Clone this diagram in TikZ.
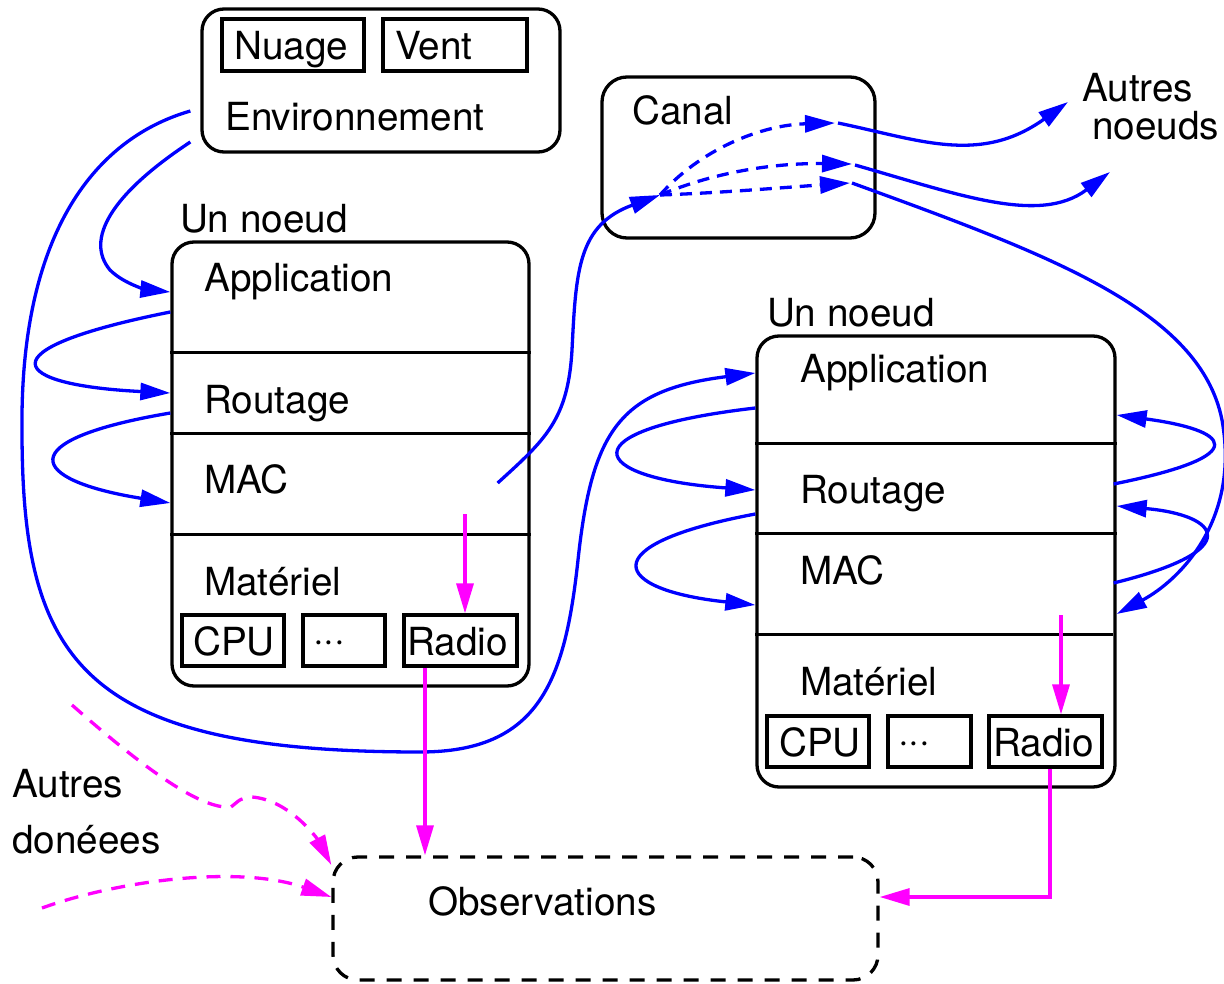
\documentclass[tikz,border=0pt]{standalone}
\usepackage{fontspec}
\setmainfont{TeX Gyre Heros}
\usetikzlibrary{arrows.meta,calc}
\definecolor{linkblue}{RGB}{0,0,255}
\definecolor{obsmag}{RGB}{255,0,255}
\begin{document}
\begin{tikzpicture}[x=1pt,y=-1pt,
  frame/.style={draw=black, line width=3.3pt, rounded corners=22pt, inner sep=0pt},
  part/.style={draw=black, line width=3.2pt, inner sep=0pt},
  layerline/.style={draw=black, line width=3pt},
  lbl/.style={anchor=base west, inner sep=0pt, font=\fontsize{38.7pt}{46pt}\selectfont},
  flow/.style={draw=linkblue, line width=3.3pt, -{Triangle[length=30pt,width=17pt]}},
  flowdash/.style={flow, dash pattern=on 12pt off 8pt},
  feed/.style={draw=obsmag, line width=3.3pt, -{Triangle[length=30pt,width=17pt]}},
  feeddash/.style={feed, dash pattern=on 14pt off 10pt}]
\useasboundingbox (0,0) rectangle (1224,984);

% environment
\node[frame, minimum width=358pt, minimum height=143pt] (env) at (381,80.5) {};
\node[part, minimum width=142pt, minimum height=52pt] (nuage) at (293,45) {};
\node[part, minimum width=144pt, minimum height=52pt] (vent) at (455,45) {};
\node[lbl] (tnuage) at (234,60) {Nuage};
\node[lbl] (tvent) at (395,60) {Vent};
\node[lbl] (tenv) at (225,131) {Environnement};

% channel
\node[frame, rounded corners=25pt, minimum width=273pt, minimum height=161pt] (canal) at (738.5,157.5) {};
\node[lbl] (tcanal) at (632,125) {Canal};
\node[lbl] (tautres) at (1082,102) {Autres};
\node[lbl] (tnoeuds) at (1092,140) {noeuds};

% first node
\node[lbl] (tun1) at (180,233) {Un noeud};
\node[frame, minimum width=357pt, minimum height=444pt] (n1) at (350.5,464) {};
\draw[layerline] (n1.west |- 0,353) -- (n1.east |- 0,353);
\draw[layerline] (n1.west |- 0,433) -- (n1.east |- 0,433);
\draw[layerline] (n1.west |- 0,534) -- (n1.east |- 0,534);
\node[lbl] (app1) at (204,292) {Application};
\node[lbl] (rout1) at (204,413) {Routage};
\node[lbl] (mac1) at (204,493) {MAC};
\node[lbl] (mat1) at (204,595) {Matériel};
\node[part, minimum width=102pt, minimum height=51pt] (cpu1) at (233,640.5) {};
\node[part, minimum width=82pt, minimum height=51pt] (etc1) at (344,640.5) {};
\node[part, minimum width=113pt, minimum height=51pt] (radio1) at (460.5,640.5) {};
\node[lbl] (tcpu1) at (193,655) {CPU};
\node[lbl] (tetc1) at (313,652) {···};
\node[lbl] (tradio1) at (407,655) {Radio};

% second node
\node[lbl] (tun2) at (767,327) {Un noeud};
\node[frame, minimum width=358pt, minimum height=451pt] (n2) at (936,561.5) {};
\draw[layerline] (n2.west |- 0,443) -- (n2.east |- 0,443);
\draw[layerline] (n2.west |- 0,533) -- (n2.east |- 0,533);
\draw[layerline] (n2.west |- 0,634) -- ($(n2.east |- 0,634)+(-4,0)$);
\node[lbl] (app2) at (800,382) {Application};
\node[lbl] (rout2) at (800,503) {Routage};
\node[lbl] (mac2) at (800,584) {MAC};
\node[lbl] (mat2) at (800,695) {Matériel};
\node[part, minimum width=102pt, minimum height=51pt] (cpu2) at (818,741.5) {};
\node[part, minimum width=83pt, minimum height=51pt] (etc2) at (929.5,741.5) {};
\node[part, minimum width=113pt, minimum height=51pt] (radio2) at (1045.5,741.5) {};
\node[lbl] (tcpu2) at (779,756) {CPU};
\node[lbl] (tetc2) at (898,753) {···};
\node[lbl] (tradio2) at (993,756) {Radio};

% observations
\node[frame, rounded corners=25pt, dash pattern=on 15pt off 12pt, minimum width=545pt, minimum height=123pt] (obs) at (605.5,918.5) {};
\node[lbl] (tobs) at (428,915) {Observations};
\node[lbl] (tautres2) at (12,797) {Autres};
\node[lbl] (tdonnees) at (12,853) {donéees};

% environment towards the nodes
\draw[flow] ($(env.west |- 0,111)+(-10,0)$) .. controls (90,140) and (20,240) .. (22,430)
  .. controls (22,660) and (80,752) .. (420,752)
  .. controls (540,752) and (565,680) .. (578,560)
  .. controls (592,430) and (620,390) .. (n2.west |- 0,373);
\draw[flow] ($(env.west |- 0,142)+(-10,0)$) .. controls (110,195) and (85,240) .. (110,270)
  .. controls (125,285) and (150,290) .. (n1.west |- 0,292);

% layer loops, first node
\draw[flow] (n1.west |- 0,312) .. controls (-20,350) and (10,385) .. (n1.west |- 0,393);
\draw[flow] (n1.west |- 0,413) .. controls (10,440) and (27,480) .. (n1.west |- 0,503);

% layer loops, second node
\draw[flow] (n2.west |- 0,408) .. controls (565,430) and (586,478) .. (n2.west |- 0,490);
\draw[flow] (n2.west |- 0,514) .. controls (590,545) and (612,590) .. (n2.west |- 0,605);
\draw[flow] ($(n2.east |- 0,484)+(-3,0)$) .. controls (1258,455) and (1228,430) .. (n2.east |- 0,415);
\draw[flow] ($(n2.east |- 0,583)+(-3,0)$) .. controls (1248,550) and (1219,515) .. (n2.east |- 0,506);

% through the channel
\coordinate (split) at (660,195);
\coordinate (c1) at (835,123);
\coordinate (c2) at (852,164);
\coordinate (c3) at (850,183);
\coordinate (far1) at (1068,102);
\coordinate (far2) at (1110,172);
\draw[flow] ($(n1.east |- 0,483)+(-33,0)$) .. controls (545,440) and (568,420) .. (572,350)
  .. controls (576,270) and (578,225) .. (split);
\draw[flowdash] (split) .. controls (700,150) and (760,125) .. (c1);
\draw[flowdash] (split) .. controls (720,170) and (780,163) .. (c2);
\draw[flowdash] (split) .. controls (720,193) and (790,187) .. (c3);
\draw[flow] ($(c1)+(3,0)$) .. controls (920,140) and (980,165) .. (far1);
\draw[flow] ($(c2)+(3,1)$) .. controls (960,195) and (1040,225) .. (far2);
\draw[flow] ($(c3)+(2,0)$) .. controls (1050,255) and (1200,310) .. (1222,420)
  .. controls (1240,520) and (1180,580) .. (n2.east |- 0,614);

% observation feeds
\coordinate (m1) at (465,514);
\coordinate (m2) at (1061,615);
\draw[feed] (m1) -- (radio1.north -| m1);
\draw[feed] (m2) -- (radio2.north -| m2);
\draw[feed] (radio1.south -| 425,0) -- (obs.north -| 425,0);
\draw[feed] (radio2.south -| 1050,0) -- (1050,897) -- (obs.east |- 0,897);
\coordinate (d1) at (72,705);
\coordinate (d2) at (42,908);
\draw[feeddash] (d1) .. controls (140,765) and (200,810) .. (231,807)
  .. controls (237,803) and (238,798) .. (252,797)
  .. controls (290,800) and (318,840) .. (obs.west |- 0,865);
\draw[feeddash] (d2) .. controls (120,880) and (240,865) .. (obs.west |- 0,897);
\end{tikzpicture}
\end{document}
